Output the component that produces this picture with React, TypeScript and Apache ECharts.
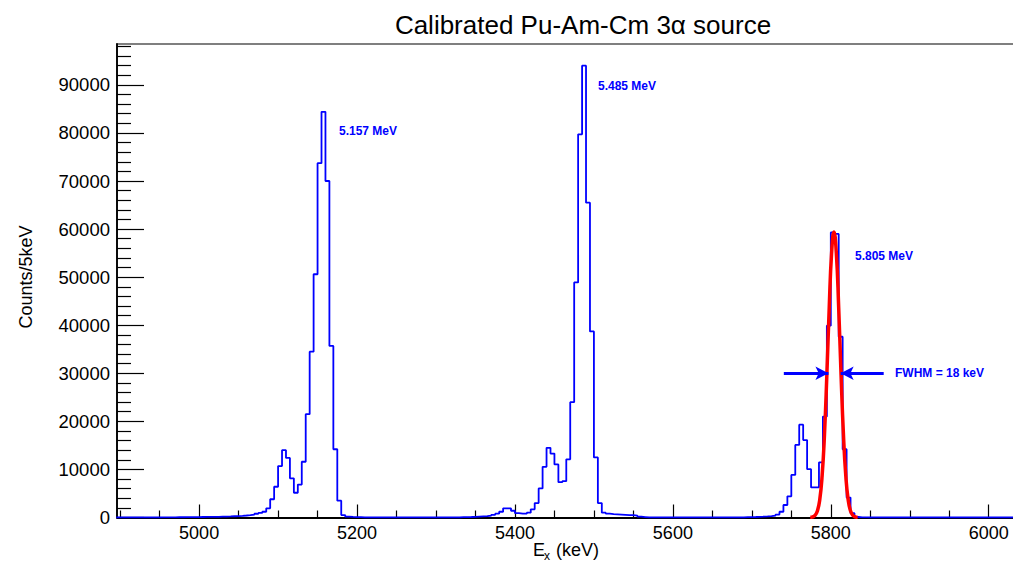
import React, { useEffect, useRef } from "react";
import * as echarts from "echarts";

// Energy axis (keV) and count axis ranges
const X_MIN = 4896;
const X_MAX = 6050;
const Y_MAX = 98500;
const BIN_WIDTH = 5; // keV per histogram bin

// 239Pu group: first bin energy and counts per 5 keV bin
const puStart = 4950;
const puCounts = [
  30, 30, 40, 40, 50, 50, 60, 70, 80, 90,
  100, 110, 120, 130, 150, 170, 190, 220, 260, 300,
  350, 420, 500, 620, 780, 950, 1200, 1900, 3800, 6400,
  10700, 14000, 12400, 8150, 5150, 6850, 11600, 21500, 34500, 50600,
  73700, 84400, 70000, 35700, 14200, 3500, 500, 200, 120, 80, 60,
];

// 241Am group
const amStart = 5330;
const amCounts = [
  60, 80, 100, 150, 200, 250, 300, 400, 550, 800,
  1200, 1900, 1900, 1400, 900, 800, 800, 1000, 1700, 3000,
  6050, 10550, 14500, 13300, 11050, 7350, 7550, 12100, 24000, 48900,
  79700, 94000, 65500, 38700, 12500, 3000, 1000, 800, 700, 650,
  600, 550, 500, 500, 400, 200, 100,
];

// 244Cm group
const cmStart = 5690;
const cmCounts = [
  60, 80, 100, 130, 170, 220, 300, 400, 600, 1200,
  2600, 4400, 8850, 15100, 19300, 16100, 10050, 6250, 6250, 11450,
  21000, 39900, 59300, 59000, 37600, 14200, 4150, 900, 100, 40, 20,
];

// Gaussian fit of the 5.805 MeV line, sampled along the curve
const fitEnergies = [
  5774, 5777, 5780, 5783, 5786, 5789, 5792, 5795, 5798, 5801, 5804,
  5807, 5810, 5813, 5816, 5819, 5822, 5825, 5828, 5831, 5834,
];
const fitCounts = [
  27, 115, 427, 1360, 3700, 8640, 17290, 29670, 43640, 55000, 59400,
  55000, 43640, 29670, 17290, 8640, 3700, 1360, 427, 115, 27,
];

// FWHM arrows at half maximum: [tail keV, tip keV]
const fwhmLevel = 30000;
const fwhmLeftArrow = [5740.5, 5797];
const fwhmRightArrow = [5867, 5812.5];

// Tick positions
const xMajorTicks = [5000, 5200, 5400, 5600, 5800, 6000];
const xMinorTicks: number[] = [];
for (let e = 4900; e <= 6050; e += 50) if (e % 200 !== 0) xMinorTicks.push(e);
const yMajorTicks: number[] = [];
for (let c = 0; c <= 90000; c += 10000) yMajorTicks.push(c);
const yMinorTicks: number[] = [];
for (let c = 2000; c <= 98000; c += 2000) if (c % 10000 !== 0) yMinorTicks.push(c);

const titleText = "Calibrated Pu-Am-Cm 3\u03b1 source";
const yTitle = "Counts/5keV";
const peakLabels = ["5.157 MeV", "5.485 MeV", "5.805 MeV"];
const fwhmLabel = "FWHM = 18 keV";

const FONT = '"Liberation Sans", Arial, Helvetica, sans-serif';
const BLUE = "#0000ff";
const RED = "#ff0000";

// The frame runs past the right edge of the visible canvas
const CANVAS_W = 1030;
const CANVAS_H = 562;

function buildHistogram(): number[][] {
  const segments: [number, number[]][] = [
    [puStart, puCounts],
    [amStart, amCounts],
    [cmStart, cmCounts],
  ];
  const lookup = new Map<number, number>();
  segments.forEach(([start, counts]) => {
    counts.forEach((c, i) => lookup.set(start + i * BIN_WIDTH, c));
  });
  const pts: number[][] = [];
  const first = Math.floor(X_MIN / BIN_WIDTH) * BIN_WIDTH;
  let e = first;
  for (; e < X_MAX; e += BIN_WIDTH) {
    pts.push([e, lookup.get(e) ?? 0]);
  }
  pts.push([e, 0]);
  return pts;
}

function buildOption(): echarts.EChartsOption {
  const hist = buildHistogram();
  const fit = fitEnergies.map((e, i) => [e, fitCounts[i]]);
  const tickLine = { color: "#000", width: 1.2 };
  const labelStyle = { color: "#000", fontFamily: FONT };
  const plain = (v: number) => String(v);

  return {
    animation: false,
    grid: {
      left: 117,
      top: 44,
      bottom: 44.5,
      right: 1.8,
      show: true,
      borderColor: "#000",
      borderWidth: 1.2,
      backgroundColor: "transparent",
    },
    xAxis: [
      {
        type: "value",
        min: X_MIN,
        max: X_MAX,
        position: "bottom",
        axisLine: { show: true, onZero: false, lineStyle: { color: "#000", width: 1.8 } },
        axisTick: { show: true, inside: true, length: 13, customValues: xMajorTicks, lineStyle: tickLine },
        axisLabel: {
          show: true,
          customValues: xMajorTicks,
          margin: 6,
          formatter: plain,
          fontSize: 18,
          ...labelStyle,
        },
        splitLine: { show: false },
      } as any,
      {
        type: "value",
        min: X_MIN,
        max: X_MAX,
        position: "bottom",
        axisLine: { show: false },
        axisTick: { show: true, inside: true, length: 7, customValues: xMinorTicks, lineStyle: tickLine },
        axisLabel: { show: false },
        splitLine: { show: false },
      } as any,
    ],
    yAxis: [
      {
        type: "value",
        min: 0,
        max: Y_MAX,
        position: "left",
        axisLine: { show: true, onZero: false, lineStyle: { color: "#000", width: 1.8 } },
        axisTick: { show: true, inside: true, length: 27, customValues: yMajorTicks, lineStyle: tickLine },
        axisLabel: {
          show: true,
          customValues: yMajorTicks,
          margin: 7,
          padding: [6, 0, 0, 0],
          formatter: plain,
          fontSize: 18.5,
          ...labelStyle,
        },
        splitLine: { show: false },
      } as any,
      {
        type: "value",
        min: 0,
        max: Y_MAX,
        position: "left",
        axisLine: { show: false },
        axisTick: { show: true, inside: true, length: 14, customValues: yMinorTicks, lineStyle: tickLine },
        axisLabel: { show: false },
        splitLine: { show: false },
      } as any,
    ],
    series: [
      {
        type: "line",
        name: "spectrum",
        data: hist,
        step: "end",
        symbol: "none",
        showSymbol: false,
        silent: true,
        xAxisIndex: 0,
        yAxisIndex: 0,
        lineStyle: { color: BLUE, width: 1.8 },
        z: 3,
      },
      {
        type: "line",
        name: "fit",
        data: fit,
        smooth: 0.5,
        symbol: "none",
        showSymbol: false,
        silent: true,
        xAxisIndex: 0,
        yAxisIndex: 0,
        lineStyle: { color: RED, width: 3.5 },
        z: 4,
        markLine: {
          silent: true,
          animation: false,
          symbol: ["none", "arrow"],
          symbolSize: [10, 13],
          label: { show: false },
          emphasis: { disabled: true },
          lineStyle: { color: BLUE, width: 3, type: "solid" },
          itemStyle: { color: BLUE },
          data: [
            [
              { coord: [fwhmLeftArrow[0], fwhmLevel] },
              { coord: [fwhmLeftArrow[1], fwhmLevel] },
            ],
            [
              { coord: [fwhmRightArrow[0], fwhmLevel] },
              { coord: [fwhmRightArrow[1], fwhmLevel] },
            ],
          ],
        } as any,
      },
    ],
    graphic: [
      {
        type: "text",
        x: 583,
        y: 25,
        style: {
          text: titleText,
          font: `26px ${FONT}`,
          fill: "#000",
          align: "center",
          verticalAlign: "middle",
        },
      },
      {
        type: "text",
        x: 26,
        y: 277,
        rotation: Math.PI / 2,
        style: {
          text: yTitle,
          font: `18px ${FONT}`,
          fill: "#000",
          align: "center",
          verticalAlign: "middle",
        },
      },
      {
        type: "text",
        x: 533,
        y: 550,
        style: { text: "E", font: `18px ${FONT}`, fill: "#000", align: "left", verticalAlign: "middle" },
      },
      {
        type: "text",
        x: 544,
        y: 556,
        style: { text: "x", font: `12px ${FONT}`, fill: "#000", align: "left", verticalAlign: "middle" },
      },
      {
        type: "text",
        x: 556,
        y: 550,
        style: { text: "(keV)", font: `18px ${FONT}`, fill: "#000", align: "left", verticalAlign: "middle" },
      },
      {
        type: "text",
        x: 339,
        y: 131,
        style: { text: peakLabels[0], font: `bold 12px ${FONT}`, fill: BLUE, verticalAlign: "middle" },
      },
      {
        type: "text",
        x: 598,
        y: 86,
        style: { text: peakLabels[1], font: `bold 12px ${FONT}`, fill: BLUE, verticalAlign: "middle" },
      },
      {
        type: "text",
        x: 855,
        y: 256,
        style: { text: peakLabels[2], font: `bold 12px ${FONT}`, fill: BLUE, verticalAlign: "middle" },
      },
      {
        type: "text",
        x: 895,
        y: 373,
        style: { text: fwhmLabel, font: `bold 12px ${FONT}`, fill: BLUE, verticalAlign: "middle" },
      },
    ],
  };
}

export default function App() {
  const ref = useRef<HTMLDivElement>(null);

  useEffect(() => {
    if (!ref.current) return;
    const chart = echarts.init(ref.current, null, { renderer: "svg" });
    chart.setOption(buildOption());
    return () => chart.dispose();
  }, []);

  return (
    <div
      style={{
        position: "absolute",
        left: 0,
        top: 0,
        width: 1013,
        height: CANVAS_H,
        overflow: "hidden",
        background: "#fff",
      }}
    >
      <div ref={ref} style={{ width: CANVAS_W, height: CANVAS_H }} />
    </div>
  );
}
